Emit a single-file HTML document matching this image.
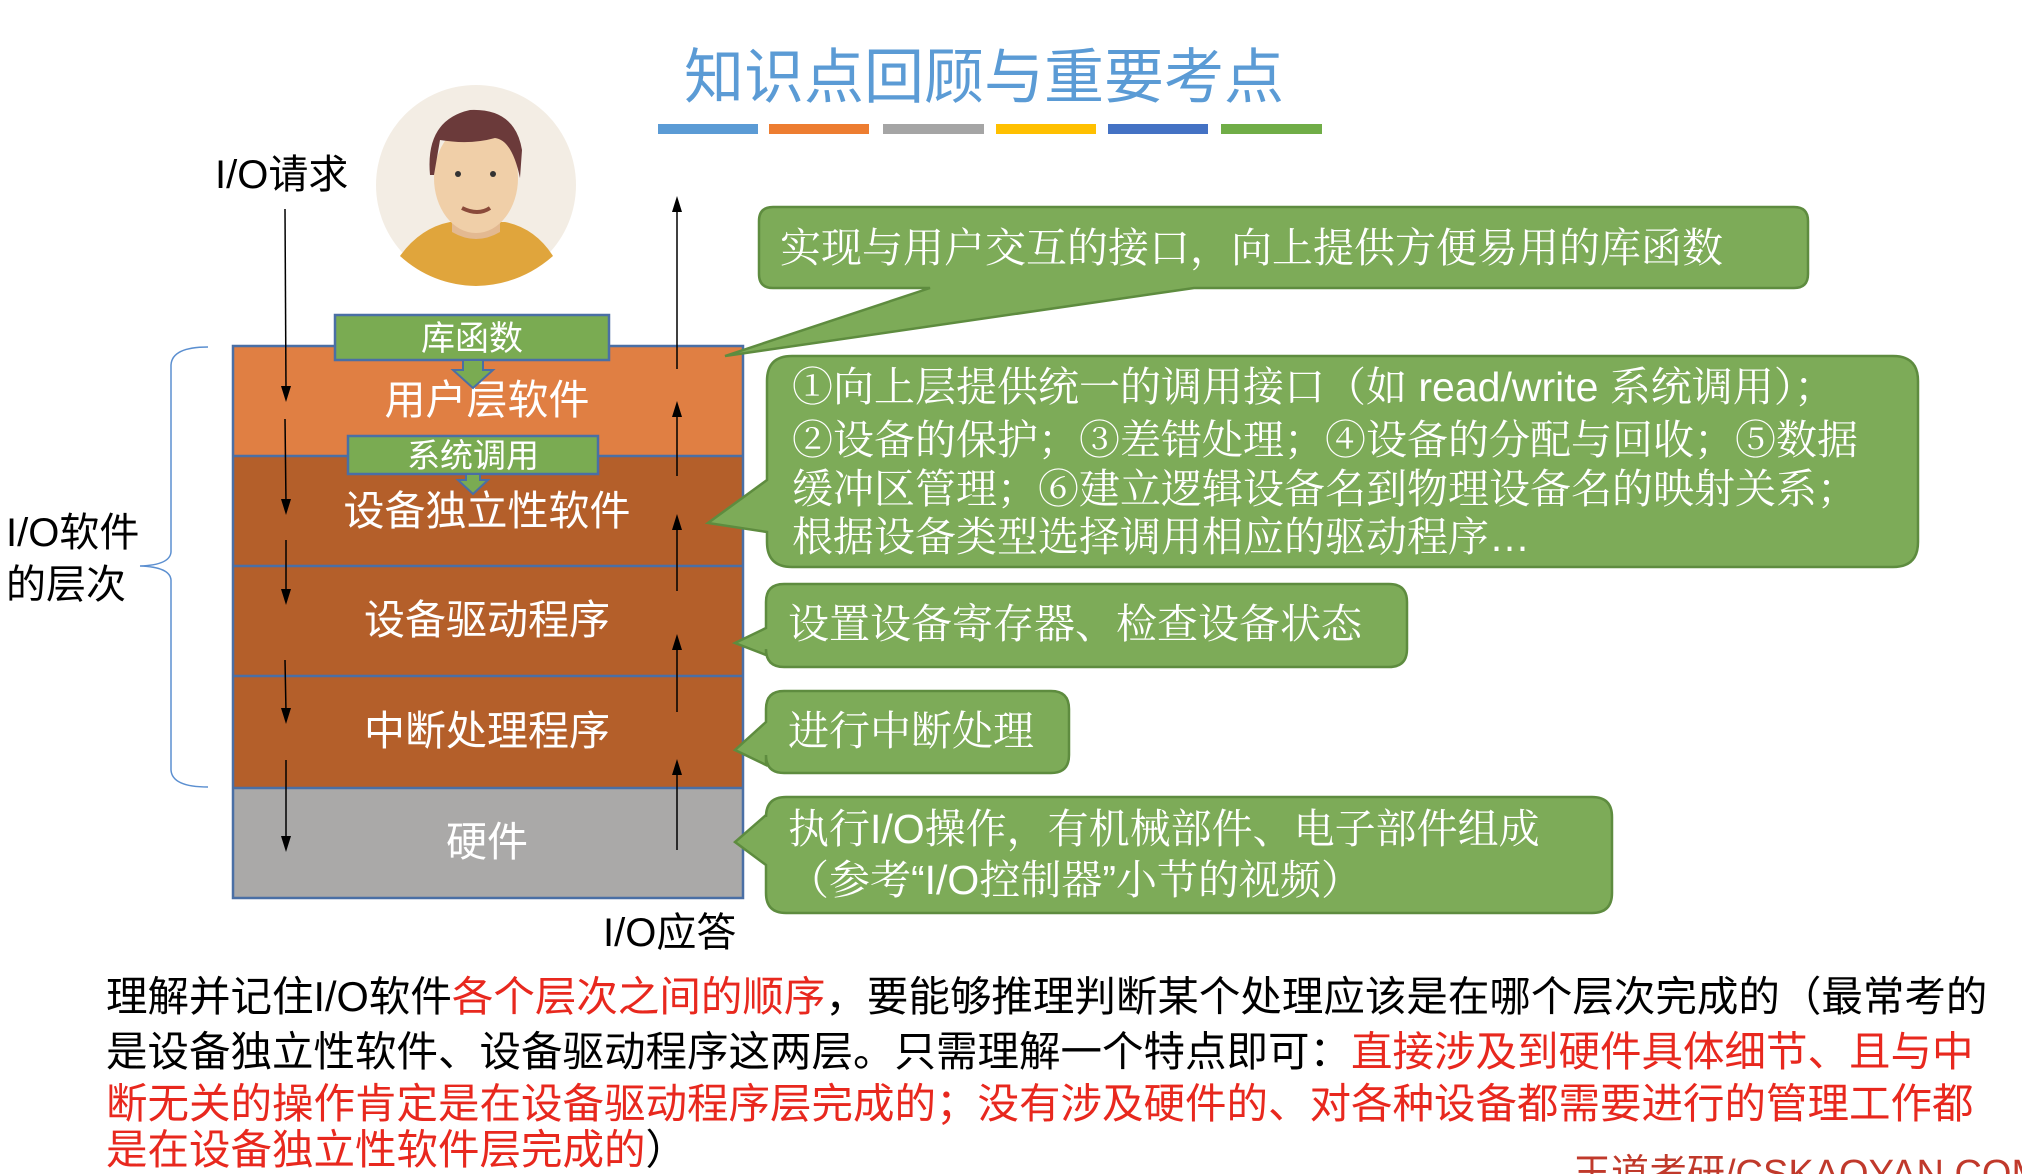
<!DOCTYPE html>
<html><head><meta charset="utf-8">
<style>
html,body{margin:0;padding:0;background:#fff;}
svg{display:block;}
.sans{font-family:"Liberation Sans","Noto Sans CJK SC",sans-serif;}
.serif{font-family:"Liberation Sans","Noto Serif CJK SC",serif;}
</style></head>
<body>
<svg width="2022" height="1174" viewBox="0 0 2022 1174" xmlns="http://www.w3.org/2000/svg">
<rect width="2022" height="1174" fill="#fff"/>

<!-- title -->
<text x="984" y="98" text-anchor="middle" class="sans" font-size="60" fill="#5b9bd5">知识点回顾与重要考点</text>
<rect x="658" y="124" width="100" height="10" fill="#5b9bd5"/>
<rect x="769" y="124" width="100" height="10" fill="#ed7d31"/>
<rect x="883" y="124" width="101" height="10" fill="#a5a5a5"/>
<rect x="996" y="124" width="100" height="10" fill="#ffc000"/>
<rect x="1108" y="124" width="100" height="10" fill="#4472c4"/>
<rect x="1221" y="124" width="101" height="10" fill="#70ad47"/>

<!-- avatar -->
<ellipse cx="476" cy="185" rx="100" ry="100" fill="#f3ede4"/>
<path d="M400,256 Q420,228 450,222 L505,222 Q535,228 553,256 Q520,285 476,286 Q432,285 400,256 Z" fill="#e0a53c"/>
<path d="M452,200 L452,232 Q476,246 500,232 L500,200 Z" fill="#e3b991"/>
<ellipse cx="476" cy="178" rx="42" ry="55" fill="#f0cfa8"/>
<path d="M430,175 Q425,120 470,110 Q515,108 522,150 L520,178 Q512,140 495,138 Q470,145 440,140 L434,175 Z" fill="#6b3a3a"/>
<circle cx="458" cy="174" r="3" fill="#333"/>
<circle cx="493" cy="174" r="3" fill="#333"/>
<path d="M462,208 Q478,216 490,208" stroke="#8a4a3a" stroke-width="4" fill="none"/>

<!-- labels -->
<text x="215" y="188" class="sans" font-size="40" fill="#000">I/O请求</text>
<text x="6" y="546" class="sans" font-size="40" fill="#000">I/O软件</text>
<text x="6" y="598" class="sans" font-size="40" fill="#000">的层次</text>
<text x="603" y="946" class="sans" font-size="40" fill="#000">I/O应答</text>

<!-- brace -->
<path d="M208,347 Q172,347 171,365 L171,552 Q170,565 140,566 Q170,567 171,580 L171,770 Q172,787 208,787" stroke="#5b8fd0" stroke-width="1.5" fill="none"/>

<!-- layers -->
<rect x="233" y="346" width="510" height="110" fill="#e07f43"/>
<rect x="233" y="456" width="510" height="110" fill="#b45f2a"/>
<rect x="233" y="566" width="510" height="110" fill="#b45f2a"/>
<rect x="233" y="676" width="510" height="112" fill="#b45f2a"/>
<rect x="233" y="788" width="510" height="110" fill="#aaa9a8"/>
<g stroke="#4a6fa5" stroke-width="2.5" fill="none">
<rect x="233" y="346" width="510" height="552"/>
<line x1="233" y1="456" x2="743" y2="456"/>
<line x1="233" y1="566" x2="743" y2="566"/>
<line x1="233" y1="676" x2="743" y2="676"/>
<line x1="233" y1="788" x2="743" y2="788"/>
</g>
<g class="sans" font-size="41" fill="#fff" text-anchor="middle">
<text x="487" y="414">用户层软件</text>
<text x="487" y="525">设备独立性软件</text>
<text x="487" y="634">设备驱动程序</text>
<text x="487" y="745">中断处理程序</text>
<text x="487" y="856">硬件</text>
</g>

<!-- green boxes -->
<rect x="335" y="315" width="274" height="45" fill="#7aab52" stroke="#4a6fa5" stroke-width="2.5"/>
<text x="472" y="350" text-anchor="middle" class="sans" font-size="34" fill="#fff">库函数</text>
<path d="M463,360 L483,360 L483,370 L493,370 L473,388 L453,370 L463,370 Z" fill="#7aab52" stroke="#4a6fa5" stroke-width="2"/>
<rect x="348" y="436" width="250" height="38" fill="#7aab52" stroke="#4a6fa5" stroke-width="2.5"/>
<text x="473" y="467" text-anchor="middle" class="sans" font-size="33" fill="#fff">系统调用</text>
<path d="M466,474 L480,474 L480,480 L488,480 L473,494 L458,480 L466,480 Z" fill="#7aab52" stroke="#4a6fa5" stroke-width="2"/>

<!-- arrows down -->
<g stroke="#000" stroke-width="1.5">
<line x1="285" y1="209" x2="286" y2="390"/>
<line x1="285" y1="419" x2="286" y2="503"/>
<line x1="286" y1="540" x2="286" y2="593"/>
<line x1="285" y1="660" x2="286" y2="712"/>
<line x1="286" y1="760" x2="286" y2="840"/>
</g>
<g fill="#000">
<polygon points="281,386 291,386 286,402"/>
<polygon points="281,499 291,499 286,515"/>
<polygon points="281,589 291,589 286,605"/>
<polygon points="281,708 291,708 286,724"/>
<polygon points="281,836 291,836 286,852"/>
</g>
<!-- arrows up -->
<g stroke="#000" stroke-width="1.5">
<line x1="677" y1="369" x2="677" y2="207"/>
<line x1="677" y1="476" x2="677" y2="412"/>
<line x1="677" y1="591" x2="677" y2="525"/>
<line x1="677" y1="712" x2="677" y2="645"/>
<line x1="677" y1="850" x2="677" y2="770"/>
</g>
<g fill="#000">
<polygon points="672,212 682,212 677,196"/>
<polygon points="672,417 682,417 677,401"/>
<polygon points="672,530 682,530 677,514"/>
<polygon points="672,650 682,650 677,634"/>
<polygon points="672,775 682,775 677,759"/>
</g>

<!-- callouts -->
<g fill="#7dab58" stroke="#5e8c3f" stroke-width="2.5">
<path d="M773,207 H1794 Q1808,207 1808,221 V274 Q1808,288 1794,288 H1194 L725,356 L930,288 H773 Q759,288 759,274 V221 Q759,207 773,207 Z"/>
<path d="M792,356 H1893 Q1918,356 1918,381 V542 Q1918,567 1893,567 H792 Q767,567 767,542 V532 L708,523 L767,480 V381 Q767,356 792,356 Z"/>
<path d="M784,584 H1389 Q1407,584 1407,602 V649 Q1407,667 1389,667 H784 Q766,667 766,649 V655 L735,643 L766,628 V602 Q766,584 784,584 Z"/>
<path d="M784,691 H1051 Q1069,691 1069,709 V755 Q1069,773 1051,773 H784 Q766,773 766,755 V765 L735,750 L766,722 V709 Q766,691 784,691 Z"/>
<path d="M786,797 H1592 Q1612,797 1612,817 V893 Q1612,913 1592,913 H786 Q766,913 766,893 V865 L735,842 L766,815 V817 Q766,797 786,797 Z"/>
</g>
<g class="serif" font-size="41" fill="#fff">
<text x="780" y="262">实现与用户交互的接口，向上提供方便易用的库函数</text>
<text x="792" y="401">①向上层提供统一的调用接口（如 read/write 系统调用）；</text>
<text x="792" y="454">②设备的保护；③差错处理；④设备的分配与回收；⑤数据</text>
<text x="792" y="503">缓冲区管理；⑥建立逻辑设备名到物理设备名的映射关系；</text>
<text x="792" y="551">根据设备类型选择调用相应的驱动程序…</text>
<text x="788" y="638">设置设备寄存器、检查设备状态</text>
<text x="788" y="745">进行中断处理</text>
<text x="788" y="843">执行I/O操作，有机械部件、电子部件组成</text>
<text x="788" y="894">（参考“I/O控制器”小节的视频）</text>
</g>

<!-- bottom text -->
<g class="sans" font-size="41.5">
<text x="106" y="1011" fill="#000">理解并记住I/O软件<tspan fill="#e8281e">各个层次之间的顺序</tspan>，要能够推理判断某个处理应该是在哪个层次完成的（最常考的</text>
<text x="106" y="1066" fill="#000">是设备独立性软件、设备驱动程序这两层。只需理解一个特点即可：<tspan fill="#e8281e">直接涉及到硬件具体细节、且与中</tspan></text>
<text x="106" y="1118" fill="#e8281e">断无关的操作肯定是在设备驱动程序层完成的；没有涉及硬件的、对各种设备都需要进行的管理工作都</text>
<text x="106" y="1164" fill="#e8281e">是在设备独立性软件层完成的<tspan fill="#000">）</tspan></text>
</g>
<text x="1573" y="1186" class="sans" font-size="38" fill="#c0392b">王道考研/CSKAOYAN.COM</text>
</svg>
</body></html>
